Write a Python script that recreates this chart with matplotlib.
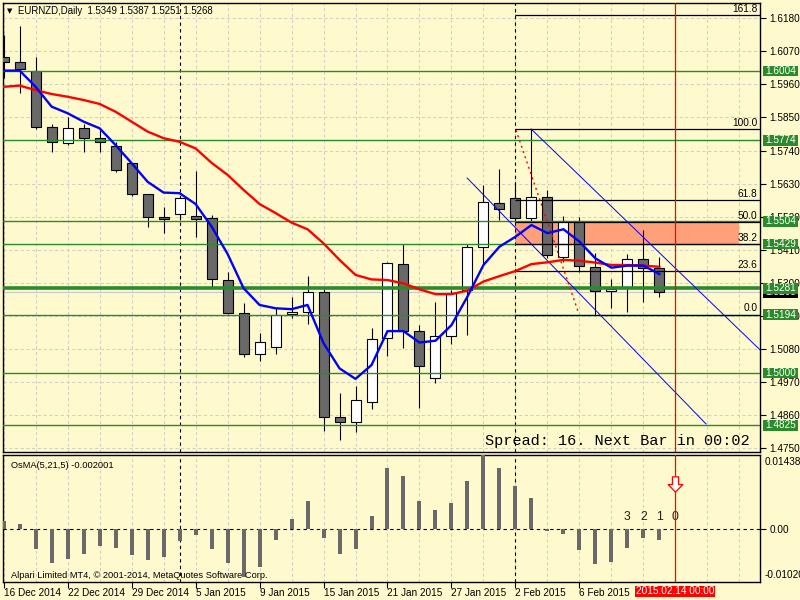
import matplotlib
matplotlib.use('Agg')
import matplotlib.pyplot as plt
from matplotlib.patches import Rectangle
from matplotlib.path import Path
import numpy as np

# ---------------- data ----------------
opens = [1.6050, 1.6034, 1.6006, 1.5817, 1.5764, 1.5814, 1.5781, 1.5756, 1.5698, 1.5594,
         1.5518, 1.5528, 1.5522, 1.5514, 1.5308, 1.5200, 1.5062, 1.5087, 1.5195, 1.5204,
         1.5268, 1.4852, 1.4836, 1.4904, 1.5115, 1.5361, 1.5139, 1.4982, 1.5123, 1.5276,
         1.5418, 1.5564, 1.5581, 1.5514, 1.5584, 1.5385, 1.5506, 1.5353, 1.5273, 1.5282,
         1.5378, 1.5349]
highs = [1.6124, 1.6154, 1.6050, 1.5828, 1.5853, 1.5828, 1.5808, 1.5769, 1.5699, 1.5596,
         1.5552, 1.5589, 1.5672, 1.5525, 1.5337, 1.5232, 1.5132, 1.5216, 1.5254, 1.5322,
         1.5278, 1.4934, 1.4956, 1.5148, 1.5370, 1.5428, 1.5159, 1.5237, 1.5276, 1.5429,
         1.5625, 1.5679, 1.5636, 1.5810, 1.5609, 1.5522, 1.5520, 1.5400, 1.5311, 1.5396,
         1.5476, 1.5387]
lows = [1.5981, 1.5931, 1.5811, 1.5736, 1.5758, 1.5736, 1.5736, 1.5669, 1.5589, 1.5487,
        1.5465, 1.5509, 1.5451, 1.5282, 1.5196, 1.5054, 1.5041, 1.5063, 1.5182, 1.5163,
        1.4808, 1.4777, 1.4804, 1.4879, 1.5056, 1.5082, 1.4882, 1.4965, 1.5096, 1.5126,
        1.5359, 1.5509, 1.5502, 1.5502, 1.5382, 1.5369, 1.5337, 1.5194, 1.5217, 1.5204,
        1.5237, 1.5251]
closes = [1.6034, 1.6010, 1.5817, 1.5767, 1.5814, 1.5781, 1.5767, 1.5675, 1.5594, 1.5518,
          1.5513, 1.5582, 1.5513, 1.5311, 1.5200, 1.5062, 1.5102, 1.5193, 1.5204, 1.5268,
          1.4854, 1.4838, 1.4910, 1.5112, 1.5367, 1.5139, 1.5023, 1.5124, 1.5265, 1.5418,
          1.5570, 1.5544, 1.5514, 1.5584, 1.5392, 1.5506, 1.5356, 1.5273, 1.5278, 1.5378,
          1.5348, 1.5268]
ma_fast = [1.6006, 1.6006, 1.5952, 1.5886, 1.5864, 1.5836, 1.5814, 1.5758, 1.5698, 1.5636,
           1.5600, 1.5598, 1.5562, 1.5487, 1.5396, 1.5282, 1.5226, 1.5215, 1.5212, 1.5226,
           1.5099, 1.5015, 1.4980, 1.5026, 1.5139, 1.5139, 1.5101, 1.5107, 1.5159, 1.5254,
           1.5359, 1.5420, 1.5453, 1.5492, 1.5465, 1.5478, 1.5437, 1.5381, 1.5350, 1.5357,
           1.5357, 1.5329]
ma_slow = [1.5952, 1.5956, 1.5941, 1.5928, 1.5919, 1.5908, 1.5895, 1.5869, 1.5836, 1.5803,
           1.5781, 1.5769, 1.5747, 1.5699, 1.5659, 1.5609, 1.5562, 1.5532, 1.5500, 1.5478,
           1.5431, 1.5376, 1.5326, 1.5311, 1.5309, 1.5298, 1.5278, 1.5262, 1.5262, 1.5274,
           1.5304, 1.5322, 1.5339, 1.5362, 1.5368, 1.5376, 1.5373, 1.5367, 1.5359, 1.5359,
           1.5357, 1.5353]
osma = [0.00161, 0.00103, -0.00382, -0.00648, -0.00570, -0.00473, -0.00318, -0.00357,
        -0.00493, -0.00590, -0.00532, -0.00221, -0.00105, -0.00376, -0.00648, -0.00920,
        -0.00726, -0.00208, 0.00200, 0.00549, -0.00163, -0.00473, -0.00382, 0.00258,
        0.01195, 0.01034, 0.00549, 0.00375, 0.00516, 0.00937, 0.014381, 0.01189,
        0.00840, 0.00607, -0.00027, -0.00091, -0.00402, -0.00673, -0.00634, -0.00363,
        -0.00169, -0.002001]

date_pos = [0, 4, 8, 12, 16, 20, 24, 28, 32, 36]
date_labels = ['16 Dec 2014', '22 Dec 2014', '29 Dec 2014', '5 Jan 2015', '9 Jan 2015',
               '15 Jan 2015', '21 Jan 2015', '27 Jan 2015', '2 Feb 2015', '6 Feb 2015']
price_ticks = [1.4750, 1.4860, 1.4970, 1.5080, 1.5190, 1.5300, 1.5410, 1.5520,
               1.5630, 1.5740, 1.5850, 1.5960, 1.6070, 1.6180]
green_levels = [1.6004, 1.5774, 1.5504, 1.5429, 1.5281, 1.5194, 1.5000, 1.4825]
green_widths = [1, 1, 1, 1, 2.6, 1, 1, 1]
bid = 1.5268
fib_low, fib_high = 1.5194, 1.5810
fib_levels = [0.0, 23.6, 38.2, 50.0, 61.8, 100.0, 161.8]
fib_start = 32
zone_low, zone_high = 1.5429, 1.5504
zone_x = (32.0, 45.98)
chan_upper = ([32.98, 47.29], [1.58116, 1.50767])
chan_lower = ([28.98, 43.92], [1.56485, 1.48299])
zigzag = ([32.03, 35.92], [1.58083, 1.52036])
separators = [11, 32]
cursor_x = 42
cursor_label = '2015.02.14 00:00'
countdown_pos = [39, 40, 41, 42]
countdown_txt = ['3', '2', '1', '0']
countdown_y = 0.00244
arrow_y = 0.0087
osma_max, osma_min = 0.014381, -0.0102

# ---------------- style ----------------
BG = '#FFFACD'
GRID = '#cfcfc4'
GREEN = '#2b8a2b'
FS = 6.7
W, H = 800, 600
plt.rcParams['font.family'] = ['Liberation Sans', 'DejaVu Sans']

fig = plt.figure(figsize=(8, 6), dpi=100, facecolor=BG)
ax = fig.add_axes([3 / W, 1 - 452 / H, 757 / W, 449 / H], facecolor=BG)
axo = fig.add_axes([3 / W, 1 - 582 / H, 757 / W, 127 / H], facecolor=BG)

xl = (-0.04, 47.29)
for a in (ax, axo):
    a.set_xlim(*xl)
    for s in a.spines.values():
        s.set_color('black')
        s.set_linewidth(1.0)
    for gx in range(0, 48, 2):
        a.axvline(gx, color=GRID, lw=0.75, ls=(0, (3, 2.5)), zorder=0.5)
    for sx in separators:
        a.axvline(sx, color='black', lw=0.8, ls=(0, (3, 3)), zorder=2)
    a.axvline(cursor_x, color='red', lw=0.9, zorder=6)

ax.set_ylim(1.47367, 1.62309)
for py in price_ticks:
    ax.axhline(py, color=GRID, lw=0.75, ls=(0, (3, 2.5)), zorder=0.5)

# zone rectangle
ax.add_patch(Rectangle((zone_x[0], zone_low), zone_x[1] - zone_x[0], zone_high - zone_low,
                       facecolor='#FFA07A', edgecolor='none', zorder=1))

# candles
x = np.arange(len(opens))
o, h, l, c = map(np.array, (opens, highs, lows, closes))
up = c >= o
ax.vlines(x, l, h, color='black', lw=0.8, zorder=3)
ax.bar(x, np.maximum(np.abs(c - o), 0.00003), bottom=np.minimum(o, c), width=0.625,
       color=np.where(up, 'white', '#696969'), edgecolor='black', lw=0.8, zorder=4)

# bid line
ax.axhline(bid, color='#c8c8c8', lw=0.8, zorder=2)

# green levels
for lev, lw in zip(green_levels, green_widths):
    ax.axhline(lev, color=GREEN, lw=lw, zorder=4.5)

# fibo
rng = fib_high - fib_low
ytr = ax.get_yaxis_transform()
for fl in fib_levels:
    val = fib_low + rng * fl / 100.0
    ax.hlines(val, fib_start, xl[1], color='black', lw=0.9, zorder=4.6)
    ax.text(0.9965, val + 0.0004, f'{fl:.1f}', transform=ytr, ha='right', va='bottom',
            fontsize=FS + 0.6, color='black', zorder=7)

# channel & zigzag
ax.plot(*chan_upper, color='blue', lw=0.7, zorder=4.7)
ax.plot(*chan_lower, color='blue', lw=0.7, zorder=4.7)
ax.plot(*zigzag, color='red', lw=1.0, ls=(0, (1.5, 2.5)), zorder=4.7)

# MAs
ax.plot(x, ma_slow, color='red', lw=1.7, zorder=5)
ax.plot(x, ma_fast, color='blue', lw=1.7, zorder=5.1)

# price axis
ax.yaxis.tick_right()
ax.set_yticks(price_ticks)
ax.set_yticklabels([f'{v:.4f}' for v in price_ticks])
ax.tick_params(axis='y', direction='out', length=4, width=0.8, pad=2.5, labelsize=FS + 0.5,
               colors='black')
ax.tick_params(axis='x', bottom=False, labelbottom=False)
ax.set_xticks([])

# axis price labels (boxes)
box_h = 10.5 / 3005.0
bx0 = 1 + 3 / 757
bw = 35 / 757
def axis_label(val, txt, fc, z):
    ax.add_patch(Rectangle((bx0, val - box_h / 2), bw, box_h, transform=ytr, facecolor=fc,
                           edgecolor='none', clip_on=False, zorder=z))
    ax.text(bx0 + 0.5 * bw, val, txt, transform=ytr, ha='center', va='center',
            fontsize=FS + 0.5, color='white', clip_on=False, zorder=z + 0.1)

axis_label(bid, f'{bid:.4f}', 'black', 8)
for lev in green_levels:
    axis_label(lev, f'{lev:.4f}', GREEN, 9)

# header & spread
fig.text(7 / W, 1 - 11 / H, '\u25BC', fontsize=5, ha='left', va='center', color='black',
         family='DejaVu Sans')
fig.text(18 / W, 1 - 11 / H, 'EURNZD,Daily  1.5349 1.5387 1.5251 1.5268', fontsize=FS + 0.2,
         ha='left', va='center', color='black')
fig.text(750 / W, 1 - 441.5 / H, 'Spread: 16. Next Bar in 00:02', family='Liberation Mono',
         fontsize=11, ha='right', va='center', color='black')

# ---------------- OsMA ----------------
axo.set_ylim(osma_min, osma_max)
axo.bar(x, osma, width=0.25, color='#696969', zorder=3)
axo.axhline(0, color='black', lw=0.8, ls=(0, (3, 3)), zorder=2)
axo.yaxis.tick_right()
axo.set_yticks([0.0])
axo.set_yticklabels(['0.00'])
axo.tick_params(axis='y', direction='out', length=4, width=0.8, pad=3, labelsize=FS + 0.5)
otr = axo.get_yaxis_transform()
axo.text(1.006, osma_max - 0.0003, '0.014381', transform=otr, ha='left', va='top',
         fontsize=FS + 0.5, clip_on=False)
axo.text(1.006, osma_min + 0.0003, '-0.01020', transform=otr, ha='left', va='bottom',
         fontsize=FS + 0.5, clip_on=False)
axo.set_xticks(date_pos)
axo.set_xticklabels(date_labels, ha='left')
axo.tick_params(axis='x', direction='out', length=4, width=0.8, pad=0.5, labelsize=FS + 0.5)

# cursor date label
xtr = axo.get_xaxis_transform()
axo.add_patch(Rectangle((cursor_x - 40 / 16, -15 / 127), 80 / 16, 11.5 / 127, transform=xtr,
                        facecolor='red', edgecolor='none', clip_on=False, zorder=8))
axo.text(cursor_x, -9.3 / 127, cursor_label, transform=xtr, ha='center', va='center',
         fontsize=FS + 0.5, color='white', clip_on=False, zorder=9)

for px, t in zip(countdown_pos, countdown_txt):
    axo.text(px, countdown_y, t, ha='center', va='center', fontsize=8.8, color='#202020')

arrow_path = Path([(-0.2, 0.5), (0.2, 0.5), (0.2, 0.0), (0.48, 0.0), (0.0, -0.5),
                   (-0.48, 0.0), (-0.2, 0.0), (-0.2, 0.5)], closed=True)
axo.plot([cursor_x], [arrow_y], marker=arrow_path, markersize=11, markerfacecolor='white',
         markeredgecolor='red', markeredgewidth=0.9, linestyle='none', zorder=7)

axo.text(8 / 757, 0.915, 'OsMA(5,21,5) -0.002001', transform=axo.transAxes, ha='left',
         va='center', fontsize=FS)
axo.text(8 / 757, 0.055, 'Alpari Limited MT4, \u00A9 2001-2014, MetaQuotes Software Corp.',
         transform=axo.transAxes, ha='left', va='center', fontsize=FS)

fig.savefig('out.png', dpi=100, facecolor=BG)
